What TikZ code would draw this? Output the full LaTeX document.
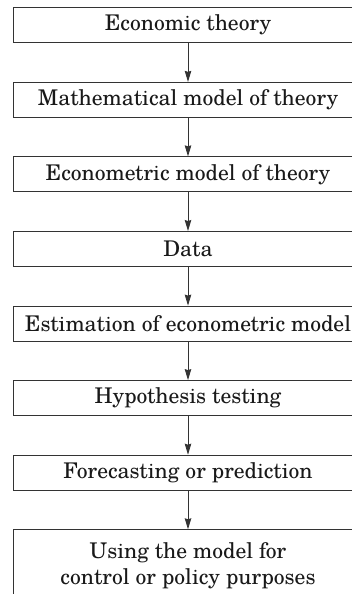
\documentclass[tikz,border=0pt]{standalone}
\usepackage{fontspec}
\setmainfont{texgyreschola-regular.otf}
\usetikzlibrary{arrows.meta}
\begin{document}
\begin{tikzpicture}[x=1pt,y=1pt,
  stepbox/.style={draw=black!80,line width=0.9pt,minimum width=349.4pt,minimum height=35pt,
    inner sep=0pt,anchor=north,font=\fontsize{21.6}{26.5}\selectfont,text=black!90},
  flow/.style={draw=black!80,line width=0.9pt,-{Stealth[length=11pt,width=6.5pt,inset=1pt]}}]
\useasboundingbox (0,0) rectangle (352,-594);
\clip (0,0) rectangle (352,-594);
\fill[white] (0,0) rectangle (352,-594);
\node[stepbox] (a) at (188,-7.3) {Economic theory};
\node[stepbox] (b) at (188,-81.9) {Mathematical model of theory};
\node[stepbox] (c) at (188,-156.4) {Econometric model of theory};
\node[stepbox] (d) at (188,-231) {Data};
\node[stepbox] (e) at (188,-305.6) {Estimation of econometric model};
\node[stepbox] (f) at (188,-380.1) {Hypothesis testing};
\node[stepbox] (g) at (188,-454.7) {Forecasting or prediction};
\node[stepbox,minimum height=72pt,align=center] (h) at (188,-529.3) {Using the model for\\control or policy purposes};
\draw[flow] (a) -- (b);
\draw[flow] (b) -- (c);
\draw[flow] (c) -- (d);
\draw[flow] (d) -- (e);
\draw[flow] (e) -- (f);
\draw[flow] (f) -- (g);
\draw[flow] (g) -- (h);
\end{tikzpicture}
\end{document}
